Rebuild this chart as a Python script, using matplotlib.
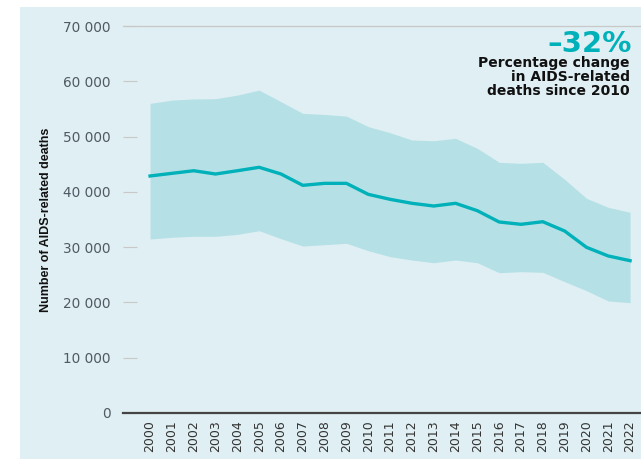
import matplotlib
matplotlib.use("Agg")
import matplotlib.pyplot as plt
from matplotlib.patches import Rectangle
from matplotlib.ticker import FuncFormatter

# AIDS-related deaths, estimate with lower/upper bounds
years = list(range(2000, 2023))
deaths = [42870, 43350, 43820, 43230, 43820, 44440, 43230, 41180, 41540, 41540,
          39550, 38650, 37930, 37440, 37930, 36590, 34550, 34130, 34600, 32920,
          29970, 28400, 27550]
upper = [56000, 56600, 56800, 56850, 57500, 58400, 56300, 54200, 54000, 53700,
         51800, 50700, 49380, 49250, 49680, 47870, 45340, 45160, 45340, 42270,
         38830, 37200, 36300]
lower = [31470, 31780, 31960, 31960, 32300, 32970, 31530, 30200, 30440, 30690,
         29360, 28270, 27670, 27180, 27670, 27180, 25370, 25560, 25440, 23750,
         22120, 20260, 19950]
yticks = [0, 10000, 20000, 30000, 40000, 50000, 60000, 70000]

bg = "#e0eff3"
band = "#b5e1e6"
teal = "#00b1b9"

fig = plt.figure(figsize=(6.41, 4.59), dpi=100)
fig.patches.append(Rectangle((20 / 641, 0), 621 / 641, 1 - 7 / 459,
                             transform=fig.transFigure, facecolor=bg,
                             edgecolor="none", zorder=-5))

ax = fig.add_axes([123 / 641, 46 / 459, 518 / 641, 387 / 459])
ax.set_facecolor("none")

ax.fill_between(years, lower, upper, color=band, linewidth=0, zorder=1)
ax.plot(years, deaths, color=teal, linewidth=2.4, solid_joinstyle="round", zorder=2)

ax.set_xlim(1998.76, 2022.5)
ax.set_ylim(0, 70000)

ax.set_yticks(yticks)
ax.yaxis.set_major_formatter(FuncFormatter(lambda v, p: f"{int(v):,}".replace(",", " ")))
ax.tick_params(axis="y", direction="in", length=10, width=0.8, color="#c8c8c8",
               pad=9, labelsize=9.8, labelcolor="#4f5a62")
ax.set_xticks(years)
ax.set_xticklabels([str(y) for y in years], rotation=90, fontsize=9, color="#333333")
ax.tick_params(axis="x", length=0, pad=5)

for s in ["top", "right", "left"]:
    ax.spines[s].set_visible(False)
ax.spines["bottom"].set_color("#444444")
ax.spines["bottom"].set_linewidth(1.6)
ax.axhline(70000, color="#c8c8c8", linewidth=0.9, zorder=0, clip_on=False)

fig.text(46 / 641, 1 - 220 / 459, "Number of AIDS-related deaths", rotation=90,
         ha="center", va="center", fontsize=9, fontweight="bold",
         family=["Liberation Sans Narrow", "Liberation Sans", "DejaVu Sans"],
         color="#111111")

fig.text(632 / 641, 1 - 52 / 459, "\u201332%", ha="right", va="baseline",
         fontsize=21, fontweight="bold", color=teal)
fig.text(630 / 641, 1 - 56 / 459, "Percentage change\nin AIDS-related\ndeaths since 2010",
         ha="right", va="top", fontsize=10, fontweight="bold", color="#111111",
         linespacing=1.0)

fig.savefig("out.png", dpi=100)
